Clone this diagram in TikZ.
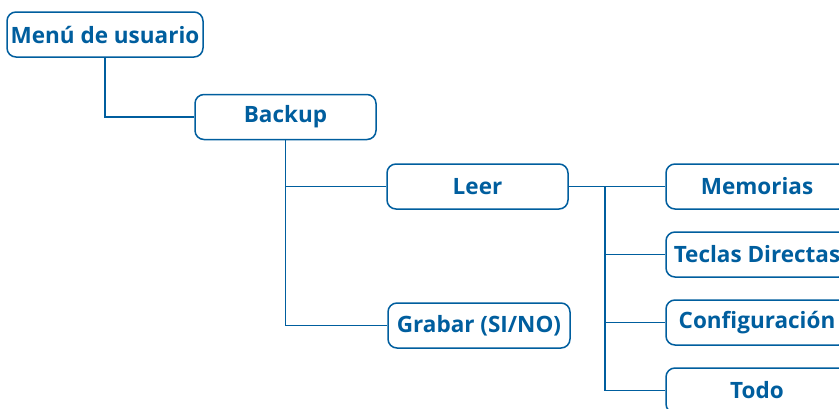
\documentclass[tikz,border=0pt]{standalone}
\usepackage{fontspec}
\setmainfont{Open Sans}
\definecolor{mblue}{HTML}{005E9E}
\begin{document}
\begin{tikzpicture}[x=1pt,y=-1pt,
  box/.style={draw=mblue, line width=1.5pt, rounded corners=9pt, text=mblue,
    font=\fontsize{22.5}{26}\selectfont\bfseries, minimum height=45pt, inner sep=0pt},
  link/.style={draw=mblue, line width=1.3pt}]
\useasboundingbox (0,0) rectangle (839,408);
\clip (0,0) rectangle (839,408);
\node[box, minimum width=196pt] (menu) at (105,34.5) {Menú de usuario};
\node[box, minimum width=181pt] (backup) at (285.5,117) {Backup};
\node[box, minimum width=181pt] (leer) at (477.5,186.5) {Leer};
\node[box, minimum width=182pt] (grabar) at (479,325.5) {Grabar (SI/NO)};
\node[box, minimum width=182pt] (mem) at (757,186.5) {Memorias};
\node[box, minimum width=182pt] (tec) at (757,254.5) {Teclas Directas};
\node[box, minimum width=182pt] (conf) at (757,322.5) {Configuración};
\node[box, minimum width=182pt] (todo) at (757,390.5) {Todo};
\coordinate (j) at (605,186.5);
\draw[link] (menu.south) |- (backup.west);
\draw[link] (backup.south) |- (leer.west);
\draw[link] (backup.south) |- (grabar.west);
\draw[link] (leer.east) -- (mem.west);
\draw[link] (j) |- (tec.west);
\draw[link] (j) |- (conf.west);
\draw[link] (j) |- (todo.west);
\end{tikzpicture}
\end{document}
